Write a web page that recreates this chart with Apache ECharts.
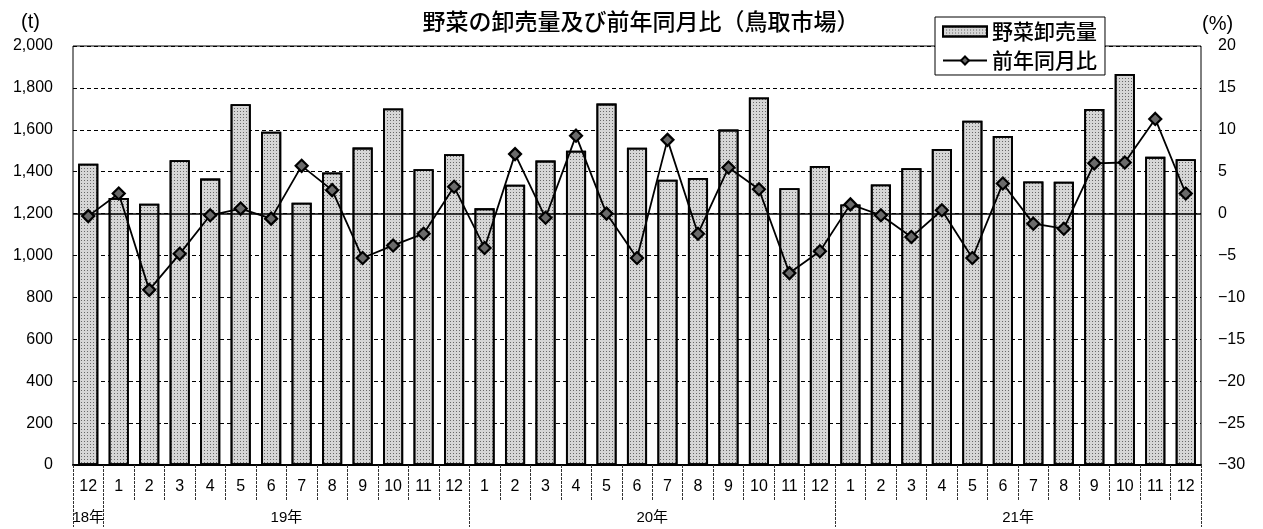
<!DOCTYPE html>
<html>
<head>
<meta charset="utf-8">
<script src="https://cdn.jsdelivr.net/npm/echarts@6/dist/echarts.min.js"></script>
<style>
  html, body { margin: 0; padding: 0; background: #fff; }
  #chart { width: 1263px; height: 529px; }
</style>
</head>
<body>
<div id="chart"></div>
<script>
// 月（平成18年12月〜21年12月）
const months = ['12', '1', '2', '3', '4', '5', '6', '7', '8', '9', '10', '11', '12',
  '1', '2', '3', '4', '5', '6', '7', '8', '9', '10', '11', '12',
  '1', '2', '3', '4', '5', '6', '7', '8', '9', '10', '11', '12'];

// 野菜卸売量 (t)
const volume = [1438, 1275, 1247, 1455, 1367, 1722, 1591, 1252, 1396, 1515, 1702, 1412, 1483,
  1225, 1338, 1453, 1500, 1725, 1514, 1362, 1370, 1601, 1754, 1321, 1427,
  1244, 1339, 1417, 1508, 1643, 1571, 1353, 1352, 1699, 1866, 1471, 1460];

// 前年同月比 (%)
const yoy = [-0.3, 2.4, -9.1, -4.8, -0.2, 0.6, -0.6, 5.7, 2.8, -5.3, -3.8, -2.4, 3.2,
  -4.1, 7.1, -0.5, 9.3, 0.0, -5.3, 8.8, -2.4, 5.5, 2.9, -7.1, -4.5,
  1.1, -0.2, -2.8, 0.4, -5.3, 3.6, -1.2, -1.8, 6.0, 6.1, 11.3, 2.4];

// 年の区切り
const yearLabels = ['18年', '19年', '20年', '21年'];
const yearMonthCounts = [1, 12, 12, 12];

// 年ラベル用の半月刻みスロット（境界に区切り線、各年の中央にラベル）
const totalMonths = yearMonthCounts.reduce((a, b) => a + b, 0);
const halfSlots = [];
for (let i = 0; i <= totalMonths * 2; i++) halfSlots.push('');
const yearBoundary = new Set([0]);
let acc = 0;
yearMonthCounts.forEach((n, k) => {
  halfSlots[acc * 2 + n] = yearLabels[k];
  acc += n;
  yearBoundary.add(acc * 2);
});

const numFont = 'Liberation Sans, Arial, Noto Sans CJK JP, sans-serif';
const jpFont = 'Noto Sans CJK JP, sans-serif';
const minus = v => String(v).replace('-', '\u2212');
const comma = v => String(v).replace(/\B(?=(\d{3})+(?!\d))/g, ',');

const chart = echarts.init(document.getElementById('chart'));
chart.setOption({
  animation: false,
  backgroundColor: '#fff',
  title: {
    text: '野菜の卸売量及び前年同月比（鳥取市場）',
    left: 636,
    top: 5,
    textAlign: 'center',
    textStyle: { fontFamily: jpFont, fontSize: 23, fontWeight: 500, color: '#000' }
  },
  legend: {
    orient: 'vertical',
    left: 935,
    top: 17,
    padding: [4, 8, 4, 7],
    itemGap: 8,
    itemWidth: 44,
    itemHeight: 10,
    backgroundColor: '#fff',
    borderColor: '#000',
    borderWidth: 1,
    borderRadius: 0,
    textStyle: { fontFamily: jpFont, fontSize: 21, fontWeight: 500, color: '#000' },
    data: [{ name: '野菜卸売量', icon: 'rect' }, { name: '前年同月比' }]
  },
  grid: {
    left: 73, right: 62, top: 46, bottom: 64,
    show: true, borderColor: '#000', borderWidth: 1, containLabel: false
  },
  xAxis: [
    {
      type: 'category',
      data: months,
      position: 'bottom',
      boundaryGap: true,
      axisLine: { show: true, onZero: false, lineStyle: { color: '#000', width: 2 } },
      axisTick: { show: true, length: 35, lineStyle: { color: '#333', width: 1, type: [3, 1] } },
      axisLabel: { margin: 14, fontFamily: numFont, fontSize: 16, color: '#000', interval: 0 },
      splitLine: { show: false }
    },
    {
      type: 'category',
      data: halfSlots,
      position: 'bottom',
      boundaryGap: false,
      axisLine: { show: true, onZero: false, lineStyle: { color: 'rgba(0,0,0,0)', width: 0 } },
      axisTick: {
        show: true, length: 62,
        interval: idx => yearBoundary.has(idx),
        lineStyle: { color: '#333', width: 1, type: [3, 1] }
      },
      axisLabel: {
        show: true, margin: 45, fontFamily: numFont, fontSize: 15, color: '#000',
        interval: idx => halfSlots[idx] !== ''
      },
      splitLine: { show: false }
    }
  ],
  yAxis: [
    {
      type: 'value',
      min: 0, max: 2000, interval: 200,
      position: 'left',
      name: '(t)',
      nameLocation: 'end',
      nameGap: 14,
      nameTextStyle: { fontFamily: numFont, fontSize: 20, color: '#000', align: 'right', padding: [0, 33, 0, 0] },
      axisLine: { show: false },
      axisTick: { show: false },
      axisLabel: { margin: 20, fontFamily: numFont, fontSize: 16, color: '#000', formatter: comma },
      splitLine: { show: true, lineStyle: { color: '#000', width: 1, type: [4, 3] } }
    },
    {
      type: 'value',
      min: -30, max: 20, interval: 5,
      position: 'right',
      name: '(%)',
      nameLocation: 'end',
      nameGap: 12,
      nameTextStyle: { fontFamily: numFont, fontSize: 20, color: '#000', align: 'left', padding: [0, 0, 0, 1] },
      axisLine: { show: false },
      axisTick: { show: false },
      axisLabel: { margin: 17, fontFamily: numFont, fontSize: 16, color: '#000', formatter: minus },
      splitLine: { show: false }
    }
  ],
  series: [
    {
      name: '野菜卸売量',
      type: 'bar',
      xAxisIndex: 0,
      yAxisIndex: 0,
      data: volume,
      barCategoryGap: '34%',
      itemStyle: {
        color: '#d6d6d6',
        borderColor: '#000',
        borderWidth: 1.8,
        decal: {
          symbol: 'rect',
          symbolSize: 1,
          color: 'rgba(30,30,30,0.6)',
          dashArrayX: [1, 2],
          dashArrayY: [1, 2],
          rotation: 0
        }
      },
      z: 2
    },
    {
      name: '前年同月比',
      type: 'line',
      xAxisIndex: 0,
      yAxisIndex: 1,
      data: yoy,
      symbol: 'diamond',
      symbolSize: 12,
      lineStyle: { color: '#000', width: 1.8 },
      itemStyle: { color: '#6a6a6a', borderColor: '#000', borderWidth: 2.2 },
      z: 5,
      markLine: {
        silent: true,
        symbol: 'none',
        label: { show: false },
        lineStyle: { color: '#000', width: 1.5, type: 'solid' },
        data: [{ yAxis: 0 }]
      }
    }
  ]
});
</script>
</body>
</html>
